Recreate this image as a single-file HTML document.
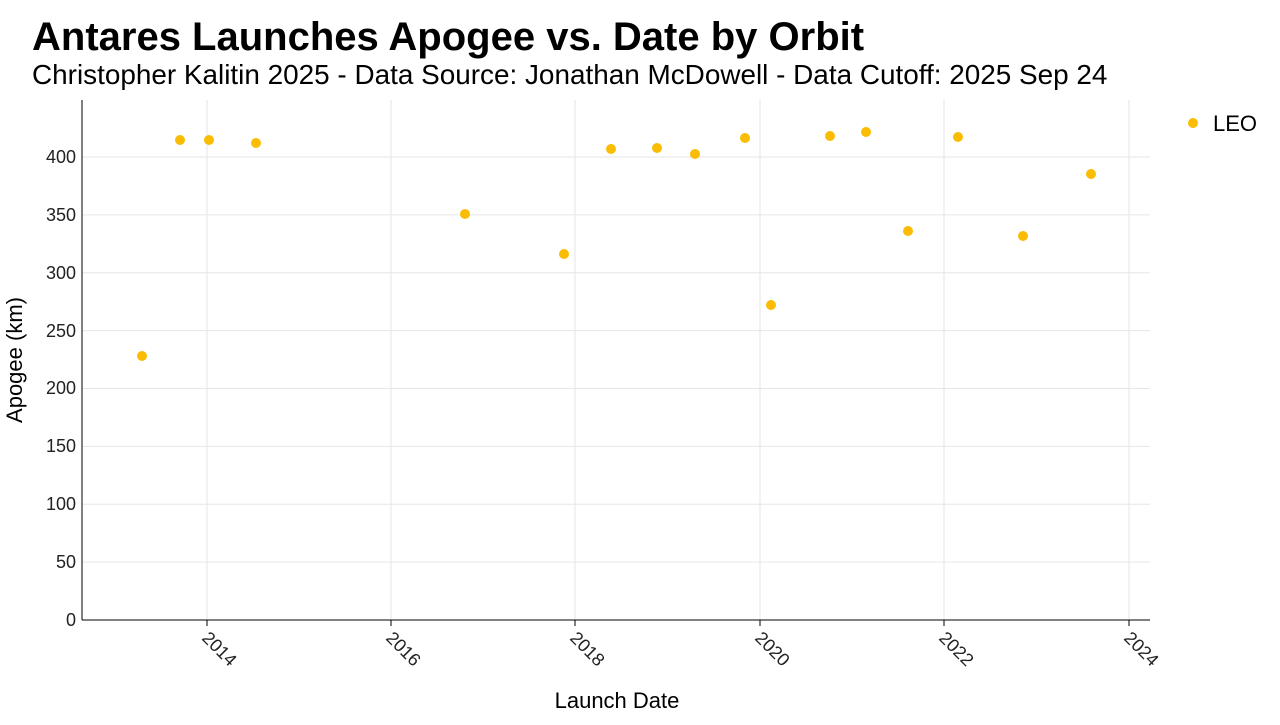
<!DOCTYPE html>
<html><head><meta charset="utf-8"><style>
body{margin:0;background:#fff;font-family:"Liberation Sans",sans-serif;}
</style></head><body>
<svg width="1280" height="720" xmlns="http://www.w3.org/2000/svg" font-family="Liberation Sans, sans-serif">
<text x="32" y="50" font-size="40" font-weight="bold" fill="#000">Antares Launches Apogee vs. Date by Orbit</text>
<text x="32" y="84" font-size="27.9" fill="#000">Christopher Kalitin 2025 - Data Source: Jonathan McDowell - Data Cutoff: 2025 Sep 24</text>
<g stroke="#e6e6e6" stroke-width="1">
<line x1="82" x2="1150" y1="562.1" y2="562.1"/><line x1="82" x2="1150" y1="504.3" y2="504.3"/>
<line x1="82" x2="1150" y1="446.4" y2="446.4"/><line x1="82" x2="1150" y1="388.5" y2="388.5"/>
<line x1="82" x2="1150" y1="330.6" y2="330.6"/><line x1="82" x2="1150" y1="272.8" y2="272.8"/>
<line x1="82" x2="1150" y1="214.9" y2="214.9"/><line x1="82" x2="1150" y1="157" y2="157"/>
<line y1="100" y2="620" x1="207" x2="207"/><line y1="100" y2="620" x1="391" x2="391"/>
<line y1="100" y2="620" x1="575" x2="575"/><line y1="100" y2="620" x1="760" x2="760"/>
<line y1="100" y2="620" x1="944" x2="944"/><line y1="100" y2="620" x1="1129" x2="1129"/>
</g>
<g stroke="#000" stroke-width="1">
<line x1="82" y1="100" x2="82" y2="620"/><line x1="82" y1="620" x2="1150" y2="620"/>
<line x1="207" x2="207" y1="620" y2="626"/><line x1="391" x2="391" y1="620" y2="626"/>
<line x1="575" x2="575" y1="620" y2="626"/><line x1="760" x2="760" y1="620" y2="626"/>
<line x1="944" x2="944" y1="620" y2="626"/><line x1="1129" x2="1129" y1="620" y2="626"/>
</g>
<g font-size="18" fill="#222" text-anchor="end">
<text x="76" y="626">0</text><text x="76" y="568">50</text><text x="76" y="510">100</text>
<text x="76" y="452">150</text><text x="76" y="394">200</text><text x="76" y="337">250</text>
<text x="76" y="279">300</text><text x="76" y="221">350</text><text x="76" y="163">400</text>
</g>
<g font-size="18" fill="#222">
<text transform="translate(201,639) rotate(45)">2014</text>
<text transform="translate(385,639) rotate(45)">2016</text>
<text transform="translate(569,639) rotate(45)">2018</text>
<text transform="translate(754,639) rotate(45)">2020</text>
<text transform="translate(938,639) rotate(45)">2022</text>
<text transform="translate(1123,639) rotate(45)">2024</text>
</g>
<text x="617" y="708" font-size="22" text-anchor="middle">Launch Date</text>
<text transform="translate(22,360) rotate(-90)" font-size="22" text-anchor="middle">Apogee (km)</text>
<g fill="#fbbc04">
<circle cx="142" cy="356" r="5"/><circle cx="180" cy="140" r="5"/><circle cx="209" cy="140" r="5"/>
<circle cx="256" cy="143" r="5"/><circle cx="465" cy="214" r="5"/><circle cx="564" cy="254" r="5"/>
<circle cx="611" cy="149" r="5"/><circle cx="657" cy="148" r="5"/><circle cx="695" cy="154" r="5"/>
<circle cx="745" cy="138" r="5"/><circle cx="771" cy="305" r="5"/><circle cx="830" cy="136" r="5"/>
<circle cx="866" cy="132" r="5"/><circle cx="908" cy="231" r="5"/><circle cx="958" cy="137" r="5"/>
<circle cx="1023" cy="236" r="5"/><circle cx="1091" cy="174" r="5"/>
<circle cx="1193" cy="123" r="5"/>
</g>
<text x="1213" y="131" font-size="22">LEO</text>
</svg>
</body></html>
